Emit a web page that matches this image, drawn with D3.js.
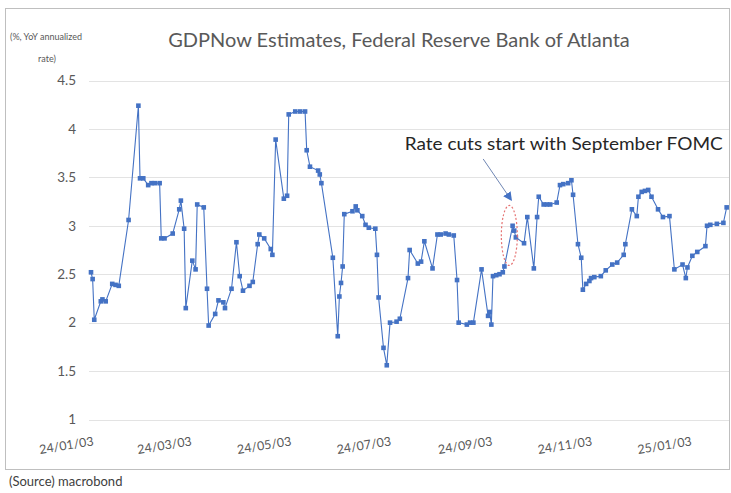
<!DOCTYPE html>
<html>
<head>
<meta charset="utf-8">
<script src="https://cdn.jsdelivr.net/npm/d3@7"></script>
<style>
html,body{margin:0;padding:0;background:#fff;}
svg{display:block;}
text{font-family:Lato,"Open Sans",sans-serif;}
</style>
</head>
<body>
<svg id="chart" width="731" height="493"></svg>
<script>
// ---- data ----
const dates = ["2024-01-03","2024-01-04","2024-01-05","2024-01-09","2024-01-10","2024-01-12","2024-01-16","2024-01-18","2024-01-20","2024-01-26",
"2024-02-01","2024-02-02","2024-02-04","2024-02-07","2024-02-09","2024-02-11","2024-02-14","2024-02-15","2024-02-17","2024-02-22",
"2024-02-26","2024-02-27","2024-02-29","2024-03-01","2024-03-05","2024-03-07","2024-03-08","2024-03-12","2024-03-14","2024-03-15",
"2024-03-19","2024-03-21","2024-03-24","2024-03-25","2024-03-29","2024-04-01","2024-04-03","2024-04-05","2024-04-09","2024-04-11",
"2024-04-14","2024-04-15","2024-04-18","2024-04-22","2024-04-23","2024-04-25","2024-04-30","2024-05-02","2024-05-03","2024-05-07",
"2024-05-10","2024-05-13","2024-05-14","2024-05-16","2024-05-21","2024-05-22","2024-05-23","2024-05-30","2024-06-02","2024-06-03",
"2024-06-04","2024-06-05","2024-06-06","2024-06-11","2024-06-13","2024-06-14","2024-06-17","2024-06-19","2024-06-21","2024-06-25",
"2024-06-26","2024-06-27","2024-06-30","2024-07-02","2024-07-04","2024-07-08","2024-07-10","2024-07-15","2024-07-16","2024-07-21",
"2024-07-23","2024-07-25","2024-07-30","2024-08-02","2024-08-04","2024-08-07","2024-08-09","2024-08-12","2024-08-14","2024-08-15",
"2024-08-20","2024-08-22","2024-08-24","2024-08-29","2024-09-02","2024-09-03","2024-09-04","2024-09-05","2024-09-07","2024-09-09",
"2024-09-11","2024-09-12","2024-09-17","2024-09-18","2024-09-19","2024-09-24","2024-09-26","2024-09-30","2024-10-02","2024-10-03",
"2024-10-06","2024-10-08","2024-10-10","2024-10-14","2024-10-16","2024-10-18","2024-10-21","2024-10-23","2024-10-24","2024-10-27",
"2024-10-29","2024-10-30","2024-11-01","2024-11-03","2024-11-04","2024-11-06","2024-11-10","2024-11-13","2024-11-17","2024-11-20",
"2024-11-24","2024-11-25","2024-11-29","2024-12-02","2024-12-03","2024-12-05","2024-12-07","2024-12-09","2024-12-11","2024-12-15",
"2024-12-18","2024-12-22","2024-12-25","2024-12-30","2025-01-01","2025-01-02","2025-01-05","2025-01-08","2025-01-13","2025-01-14",
"2025-01-16","2025-01-20","2025-01-24","2025-01-26"];

const gdpNow = [2.52,2.45,2.03,2.22,2.24,2.22,2.40,2.39,2.38,3.06,
4.24,3.49,3.49,3.42,3.44,3.44,3.44,2.87,2.87,2.92,
3.17,3.26,2.97,2.15,2.64,2.55,3.22,3.19,2.35,1.97,
2.09,2.23,2.21,2.15,2.35,2.83,2.48,2.33,2.38,2.42,
2.81,2.91,2.87,2.76,2.70,3.89,3.28,3.31,4.15,4.18,
4.18,4.18,3.78,3.61,3.57,3.53,3.44,2.67,1.86,2.27,
2.41,2.58,3.12,3.15,3.20,3.16,3.10,3.01,2.98,2.97,
2.70,2.26,1.74,1.56,2.00,2.01,2.04,2.46,2.75,2.61,
2.63,2.84,2.56,2.91,2.91,2.92,2.91,2.90,2.44,2.00,
1.98,2.00,2.00,2.55,2.07,2.11,1.98,2.48,2.49,2.50,
2.52,2.58,3.00,2.95,2.88,2.82,3.09,2.56,3.09,3.30,
3.22,3.22,3.22,3.24,3.42,3.43,3.44,3.47,3.32,2.81,
2.67,2.34,2.40,2.43,2.46,2.47,2.48,2.54,2.60,2.62,
2.70,2.81,3.17,3.10,3.30,3.35,3.36,3.37,3.30,3.17,
3.09,3.10,2.55,2.60,2.46,2.57,2.69,2.73,2.79,3.00,
3.01,3.02,3.03,3.19];

const yTicks = [1, 1.5, 2, 2.5, 3, 3.5, 4, 4.5];
const xTickDates = ["2024-01-03","2024-03-03","2024-05-03","2024-07-03","2024-09-03","2024-11-03","2025-01-03"];
const xDomain = ["2024-01-03","2025-01-27"];

const titleText = "GDPNow Estimates, Federal Reserve Bank of Atlanta";
const unitLines = ["(%, YoY annualized", "rate)"];
const sourceText = "(Source) macrobond";
const noteText = "Rate cuts start with September FOMC";
// annotation anchors in data space: [date, value]
const noteTextAnchor = ["2024-07-13", 3.78];
const arrowFrom = ["2024-08-30", 3.69];
const arrowTo = ["2024-09-16", 3.27];
const ellipseCenter = ["2024-09-15", 2.9];

// ---- drawing ----
const parse = d3.utcParse("%Y-%m-%d");
const svg = d3.select("#chart");
const blue = "#4472c4";

const x = d3.scaleUtc().domain(xDomain.map(parse)).range([91, 728.3]);
const y = d3.scaleLinear().domain([1, 4.5]).range([419.5, 80.5]);

// frame
svg.append("rect").attr("x", 5.5).attr("y", 8.5).attr("width", 724).attr("height", 461)
  .attr("fill", "none").attr("stroke", "#bfbfbf").attr("stroke-width", 1);

// gridlines
svg.append("g").selectAll("line").data(yTicks).join("line")
  .attr("x1", 89).attr("x2", 729)
  .attr("y1", d => Math.round(y(d)) + 0.5).attr("y2", d => Math.round(y(d)) + 0.5)
  .attr("stroke", "#e3e3e3").attr("stroke-width", 1);

// y axis labels
const yAxis = d3.axisLeft(y).tickValues(yTicks).tickSize(0).tickPadding(0).tickFormat(d3.format("~g"));
const gy = svg.append("g").attr("transform", "translate(76,0)").call(yAxis);
gy.select(".domain").remove();
gy.selectAll("text").attr("fill", "#595959").style("font-size", "13.5px").style("font-family", "Lato,sans-serif");

// x axis labels
const fmt = d3.utcFormat("%y/%m/%d");
const xAxis = d3.axisBottom(x).tickValues(xTickDates.map(parse)).tickSize(0).tickFormat(fmt);
const gx = svg.append("g").attr("transform", "translate(0,437)").call(xAxis);
gx.select(".domain").remove();
gx.selectAll("text")
  .attr("fill", "#595959").style("font-size", "12.5px").style("font-family", "Lato,sans-serif")
  .attr("text-anchor", "end").attr("y", 0).attr("dy", "0.35em")
  .attr("transform", "translate(2,4) rotate(-9)");

// line
const pts = dates.map((d, i) => ({date: parse(d), v: gdpNow[i]}));
svg.append("path").datum(pts)
  .attr("fill", "none").attr("stroke", blue).attr("stroke-width", 1.1)
  .attr("d", d3.line().x(d => x(d.date)).y(d => y(d.v)));

// markers
svg.append("g").selectAll("rect").data(pts).join("rect")
  .attr("x", d => x(d.date) - 2.3).attr("y", d => y(d.v) - 2.3)
  .attr("width", 4.6).attr("height", 4.6).attr("fill", blue);

// title
svg.append("text").attr("x", 399).attr("y", 47).attr("text-anchor", "middle")
  .attr("fill", "#595959").style("font-size", "20px").text(titleText);

// unit label
svg.append("text").attr("x", 10).attr("y", 40).attr("fill", "#595959")
  .style("font-size", "9px").text(unitLines[0]);
svg.append("text").attr("x", 47).attr("y", 62).attr("text-anchor", "middle").attr("fill", "#595959")
  .style("font-size", "9px").text(unitLines[1]);

// annotation
svg.append("text").attr("x", x(parse(noteTextAnchor[0]))).attr("y", y(noteTextAnchor[1]))
  .attr("fill", "#262626").style("font-size", "17px")
  .attr("textLength", 318).attr("lengthAdjust", "spacingAndGlyphs").text(noteText);

const defs = svg.append("defs");
defs.append("marker").attr("id", "ah").attr("viewBox", "0 0 10 10").attr("refX", 8).attr("refY", 5)
  .attr("markerWidth", 9).attr("markerHeight", 9).attr("markerUnits", "userSpaceOnUse").attr("orient", "auto")
  .append("path").attr("d", "M0,0 L10,5 L0,10 z").attr("fill", blue);
svg.append("line")
  .attr("x1", x(parse(arrowFrom[0]))).attr("y1", y(arrowFrom[1]))
  .attr("x2", x(parse(arrowTo[0]))).attr("y2", y(arrowTo[1]))
  .attr("stroke", "#6f86b3").attr("stroke-width", 1).attr("marker-end", "url(#ah)");

svg.append("ellipse")
  .attr("cx", x(parse(ellipseCenter[0]))).attr("cy", y(ellipseCenter[1]))
  .attr("rx", 8).attr("ry", 30)
  .attr("fill", "none").attr("stroke", "#e57373").attr("stroke-width", 1.2).attr("stroke-dasharray", "2,2");

// source
svg.append("text").attr("x", 9).attr("y", 486).attr("fill", "#404040")
  .style("font-size", "13px").text(sourceText);
</script>
</body>
</html>
